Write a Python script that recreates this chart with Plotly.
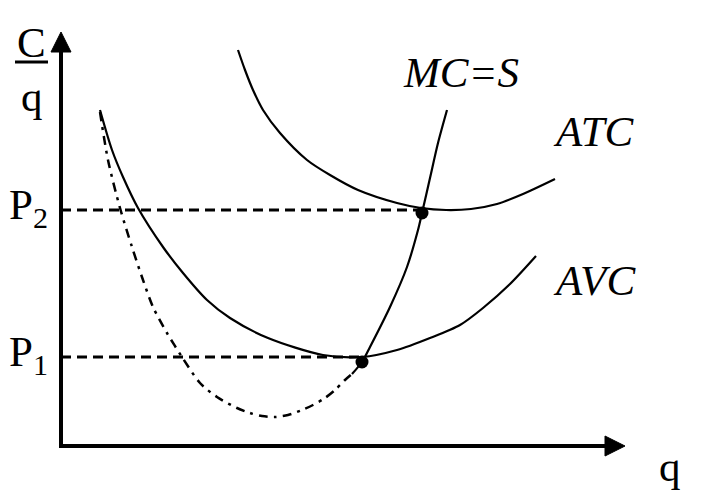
import plotly.graph_objects as go

# Cost curves (q, cost per unit)
avc_q = [39, 51, 62, 77, 102, 122, 146, 169, 207, 262, 301, 336, 369, 399, 422, 449, 475]
avc_c = [336, 296, 269, 238, 199, 173, 146, 128, 108, 91, 89, 96, 108, 121, 138, 162, 190]

atc_q = [177, 184, 192, 202, 219, 246, 269, 297, 336, 360, 385, 410, 436, 462, 494]
atc_c = [396, 376, 356, 336, 313, 286, 271, 256, 243, 238, 236, 237, 242, 252, 267]

mc_low_q = [39, 47, 59, 71, 82, 92, 106, 121, 139, 156, 176, 189, 201, 214, 227, 241, 252, 264, 274, 284, 291]
mc_low_c = [334, 286, 238, 199, 166, 139, 113, 89, 63, 49, 38, 33, 30, 29, 31, 36, 41, 48, 56, 66, 72]

mc_high_q = [291, 301, 309, 329, 346, 357, 361, 369, 377, 386]
mc_high_c = [72, 84, 99, 139, 179, 216, 233, 268, 303, 336]

# Equilibrium points
pt_q = [361, 301]
pt_c = [233, 84]
price_levels = [236, 89]
price_labels = ["P<sub>2</sub>", "P<sub>1</sub>"]

# Axis extents
x_end = 544
y_end = 394
arrow_len = 20
arrow_half = 10

FONT = "Liberation Serif"
BLACK = "black"

fig = go.Figure()

# price dashed lines
for q, p in zip(pt_q, price_levels):
    fig.add_trace(go.Scatter(x=[0, q], y=[p, p], mode="lines",
                             line=dict(color=BLACK, width=3, dash="10px,6px"),
                             hoverinfo="skip"))

# MC dash-dot (lower part)
fig.add_trace(go.Scatter(x=mc_low_q, y=mc_low_c, mode="lines",
                         line=dict(color=BLACK, width=2.5, dash="9px,6px,3px,6px",
                                   shape="spline", smoothing=0.8), hoverinfo="skip"))
# MC solid (supply part)
fig.add_trace(go.Scatter(x=mc_high_q, y=mc_high_c, mode="lines",
                         line=dict(color=BLACK, width=2.2, shape="spline", smoothing=0.8),
                         hoverinfo="skip"))
# AVC
fig.add_trace(go.Scatter(x=avc_q, y=avc_c, mode="lines",
                         line=dict(color=BLACK, width=2.2, shape="spline", smoothing=0.8),
                         hoverinfo="skip"))
# ATC
fig.add_trace(go.Scatter(x=atc_q, y=atc_c, mode="lines",
                         line=dict(color=BLACK, width=2.2, shape="spline", smoothing=0.8),
                         hoverinfo="skip"))
# points
fig.add_trace(go.Scatter(x=pt_q, y=pt_c, mode="markers",
                         marker=dict(color=BLACK, size=13), hoverinfo="skip"))

# axes
fig.add_trace(go.Scatter(x=[0, 0, x_end], y=[y_end, 0, 0], mode="lines",
                         line=dict(color=BLACK, width=4), hoverinfo="skip"))
# arrowheads
fig.add_trace(go.Scatter(x=[-arrow_half, arrow_half, 0, -arrow_half],
                         y=[y_end, y_end, y_end + arrow_len, y_end],
                         mode="lines", fill="toself", fillcolor=BLACK,
                         line=dict(color=BLACK, width=1), hoverinfo="skip"))
fig.add_trace(go.Scatter(x=[x_end, x_end, x_end + arrow_len, x_end],
                         y=[-arrow_half, arrow_half, 0, -arrow_half],
                         mode="lines", fill="toself", fillcolor=BLACK,
                         line=dict(color=BLACK, width=1), hoverinfo="skip"))

# fraction bar of C/q
fig.add_shape(type="line", x0=-46, x1=-13, y0=384, y1=384,
              line=dict(color=BLACK, width=3))

ann = []
def txt(x, y, s, italic=False, size=43):
    ann.append(dict(x=x, y=y, xref="x", yref="y", text=(f"<i>{s}</i>" if italic else s),
                    showarrow=False, font=dict(family=FONT, size=size, color=BLACK),
                    xanchor="center", yanchor="middle"))

txt(-30, 404, "C")
txt(-29, 350, "q")
txt(400, 374, "MC=S", italic=True)
txt(533, 315, "ATC", italic=True)
txt(533, 166, "AVC", italic=True)
txt(609, -20, "q")
for p, lab in zip(price_levels, price_labels):
    ann.append(dict(x=-11, y=p + 2, xref="x", yref="y", text=lab, showarrow=False,
                    font=dict(family=FONT, size=43, color=BLACK),
                    xanchor="right", yanchor="middle"))

fig.update_layout(
    width=703, height=496,
    margin=dict(l=0, r=0, t=0, b=0),
    paper_bgcolor="white", plot_bgcolor="white",
    showlegend=False,
    xaxis=dict(range=[-61, 642], visible=False, fixedrange=True),
    yaxis=dict(range=[-50, 446], visible=False, fixedrange=True),
    annotations=ann,
)

fig.write_html("out.html", config={"displayModeBar": False},
               post_script="document.body.style.margin='0';document.body.style.overflow='hidden';")
